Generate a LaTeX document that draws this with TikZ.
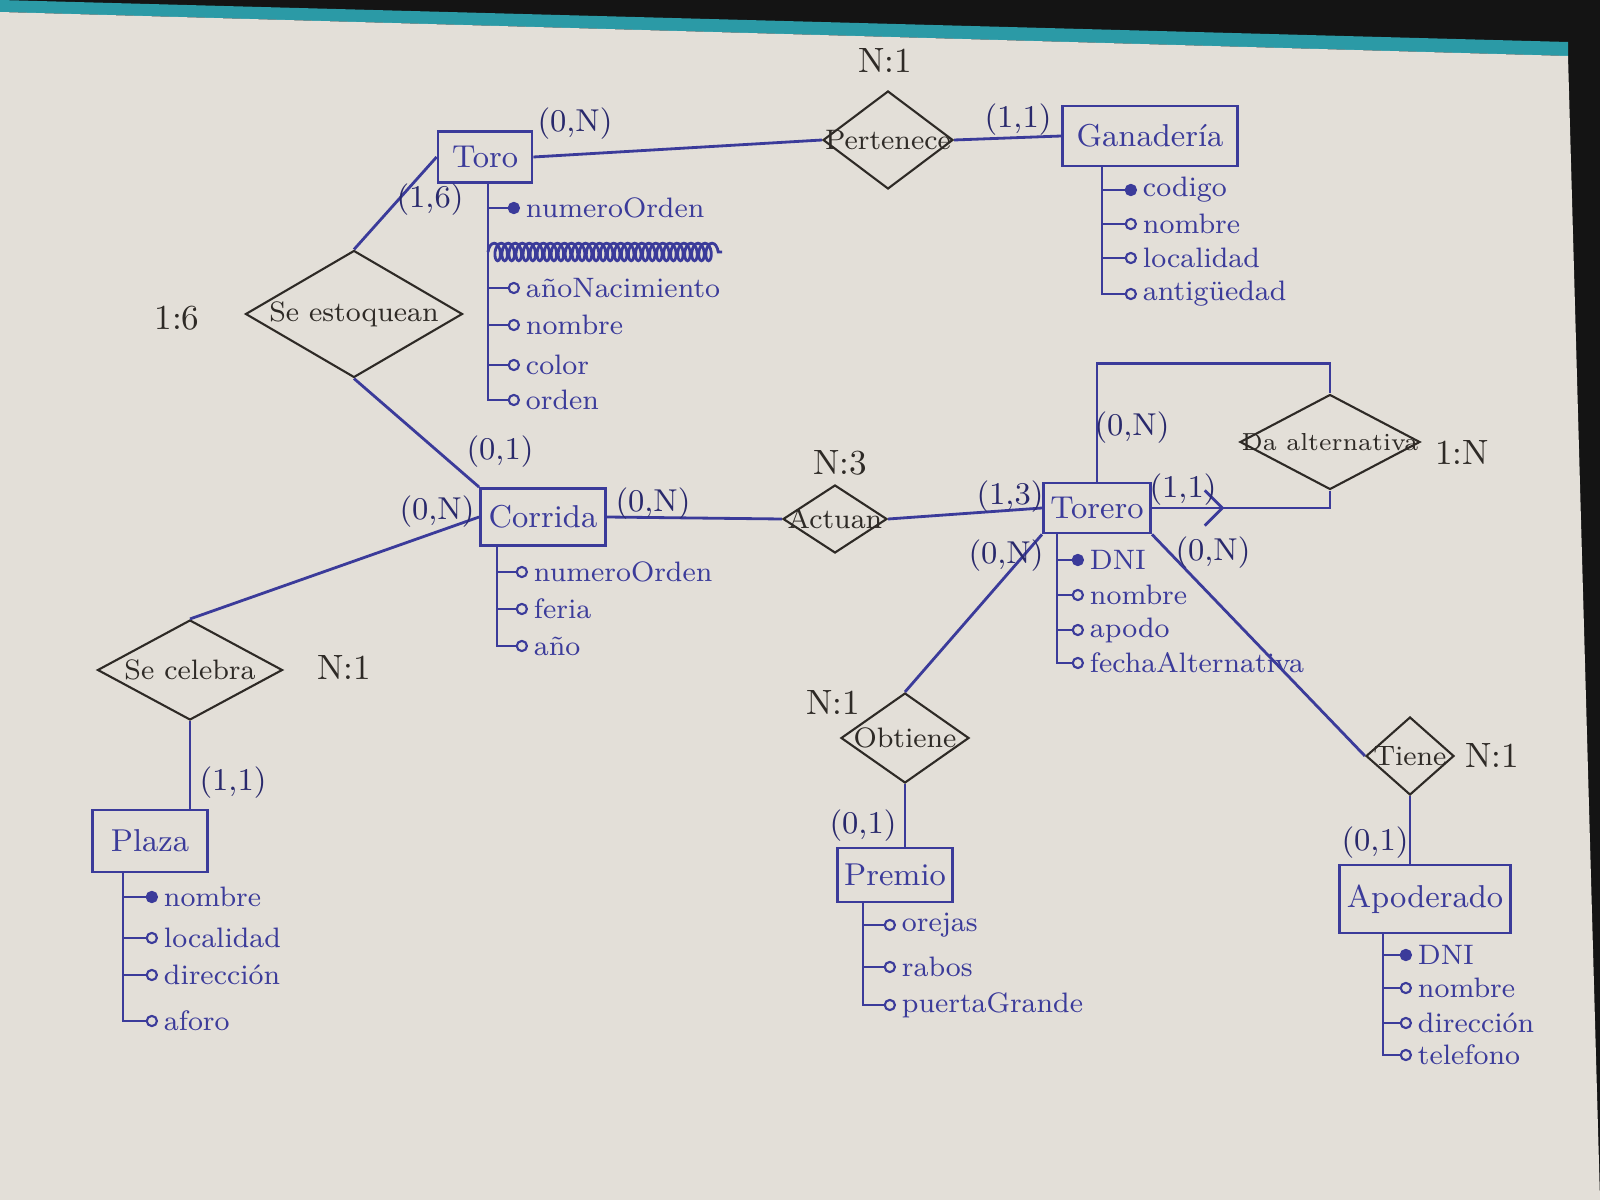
\documentclass[tikz,border=0pt]{standalone}
\usepackage{tikz}
\usetikzlibrary{shapes.geometric, arrows.meta, decorations.markings, decorations.pathmorphing, positioning}
\definecolor{ERink}{HTML}{3B3B9A}
\definecolor{ERpencil}{HTML}{2E2A26}
\definecolor{ERpaper}{HTML}{E3DFD8}
\definecolor{ERteal}{HTML}{2B9AA6}
\tikzset{
  entity/.style={draw=ERink, thick, rectangle, text=ERink, font=\small, inner sep=2pt},
  rel/.style={draw=ERpencil, semithick, diamond, inner sep=0pt},
  reltext/.style={font=\footnotesize, text=ERpencil},
  link/.style={draw=ERink, thick},
  attr/.style={anchor=west, font=\footnotesize, text=ERink, inner sep=1.5pt},
  attrline/.style={draw=ERink, semithick, -{Circle[open, length=3.5pt]}},
  keyline/.style={draw=ERink, semithick, -{Circle[length=3.5pt]}},
  card/.style={font=\small, text=ERink!70!black},
  ratio/.style={font=\normalsize, text=ERpencil}
}
\begin{document}
\begin{tikzpicture}[x=0.1mm, y=-0.1mm]
   \useasboundingbox (0,0) rectangle (1600,1200);
   % Paper
   \fill[black!92] (0,0) rectangle (1600,1200);
   \fill[ERteal] (0,0) -- (1568,42) -- (1568,56) -- (0,12) -- cycle;
   \fill[ERpaper] (0,12) -- (1568,56) -- (1600,1200) -- (0,1200) -- cycle;

   % Entities
   \node[entity, minimum width=9.4mm, minimum height=5.1mm] (toro) at (485,157) {Toro};
   \node[entity, minimum width=17.5mm, minimum height=6mm] (ganaderia) at (1150,136) {Ganadería};
   \node[entity, minimum width=12.5mm, minimum height=5.7mm] (corrida) at (543,517) {Corrida};
   \node[entity, minimum width=10mm, minimum height=5mm] (torero) at (1097,508) {Torero};
   \node[entity, minimum width=11.5mm, minimum height=6.2mm] (plaza) at (150,841) {Plaza};
   \node[entity, minimum width=10.4mm, minimum height=5.4mm] (premio) at (895,875) {Premio};
   \node[entity, minimum width=13mm, minimum height=6.8mm] (apoderado) at (1425,899) {Apoderado};

   % Relationships
   \node[rel, minimum width=13mm, minimum height=9.8mm,
      label={[reltext]center:Pertenece}] (pertenece) at (888,140) {};
   \node[rel, minimum width=21.7mm, minimum height=12.7mm,
      label={[reltext]center:Se estoquean}] (estoquean) at (354,314) {};
   \node[rel, minimum width=10.4mm, minimum height=6.8mm,
      label={[reltext]center:Actuan}] (actuan) at (835,519) {};
   \node[rel, minimum width=18.5mm, minimum height=10mm,
      label={[reltext]center:Se celebra}] (celebra) at (190,670) {};
   \node[rel, minimum width=18mm, minimum height=9.5mm,
      label={[reltext, font=\scriptsize]center:Da alternativa}] (altern) at (1330,442) {};
   \node[rel, minimum width=12.8mm, minimum height=9mm,
      label={[reltext]center:Obtiene}] (obtiene) at (905,738) {};
   \node[rel, minimum width=8.8mm, minimum height=7.8mm,
      label={[reltext]center:Tiene}] (tiene) at (1410,756) {};

   % Connections
   \draw[link] (toro.east) -- (pertenece.west);
   \draw[link] (pertenece.east) -- (ganaderia.west);
   \draw[link] (estoquean.north) -- (toro.west);
   \draw[link] (estoquean.south) -- (corrida.north west);
   \draw[link] (corrida.east) -- (actuan.west);
   \draw[link] (actuan.east) -- (torero.west);
   \draw[link] (celebra.north) -- (corrida.west);
   \draw[link] (celebra.south) -- (celebra.south |- plaza.north);
   \draw[link] (torero.north) -- ++(0,-118) -| (altern.north);
   \draw[link, postaction={decorate}, decoration={markings,
      mark=at position 0.37 with {\arrow{Straight Barb[length=5pt]}}}]
      (torero.east) -| (altern.south);
   \draw[link] (torero.south west) -- (obtiene.north);
   \draw[link] (obtiene.south) -- (obtiene.south |- premio.north);
   \draw[link] (torero.south east) -- (tiene.west);
   \draw[link] (tiene.south) -- (tiene.south |- apoderado.north);

   % Cardinalities
   \node[card] (cToro) at (575,124) {(0,N)};
   \node[card] (cToroE) at (430,200) {(1,6)};
   \node[card] (cGan) at (1018,120) {(1,1)};
   \node[card] (cCorE) at (500,452) {(0,1)};
   \node[card] (cCorC) at (437,512) {(0,N)};
   \node[card] (cCorA) at (653,504) {(0,N)};
   \node[card] (cTorA) at (1010,497) {(1,3)};
   \node[card] (cTorL) at (1132,428) {(0,N)};
   \node[card] (cTorR) at (1183,490) {(1,1)};
   \node[card] (cTorO) at (1006,556) {(0,N)};
   \node[card] (cTorT) at (1213,553) {(0,N)};
   \node[card] (cPre) at (863,826) {(0,1)};
   \node[card] (cApo) at (1375,843) {(0,1)};
   \node[card] (cPla) at (233,783) {(1,1)};
   \node[ratio] (rPer) at (885,60) {N:1};
   \node[ratio] (rEst) at (177,318) {1:6};
   \node[ratio] (rAct) at (840,463) {N:3};
   \node[ratio] (rAlt) at (1462,452) {1:N};
   \node[ratio] (rCel) at (344,667) {N:1};
   \node[ratio] (rObt) at (833,702) {N:1};
   \node[ratio] (rTie) at (1492,755) {N:1};

   % Toro attributes
   \coordinate (toroT) at (488,183);
   \node[attr] (toroA1) at (520,208) {numeroOrden};
   \node[attr] (toroA2) at (520,288) {añoNacimiento};
   \node[attr] (toroA3) at (520,325) {nombre};
   \node[attr] (toroA4) at (520,365) {color};
   \node[attr] (toroA5) at (520,400) {orden};
   \draw[keyline] (toroT |- toroA1) -- (toroA1.west);
   \draw[ERink, thick, decorate, decoration={coil, aspect=0.5, amplitude=2.5pt,
      segment length=2pt}] (toroT |- 0,252) -- (722,252);
   \draw[attrline] (toroT |- toroA2) -- (toroA2.west);
   \draw[attrline] (toroT |- toroA3) -- (toroA3.west);
   \draw[attrline] (toroT |- toroA4) -- (toroA4.west);
   \draw[attrline] (toroT) |- (toroA5.west);

   % Ganaderia attributes
   \coordinate (ganT) at (1102,166);
   \node[attr] (ganA1) at (1137,190) {codigo};
   \node[attr] (ganA2) at (1137,224) {nombre};
   \node[attr] (ganA3) at (1137,258) {localidad};
   \node[attr] (ganA4) at (1137,294) {antigüedad};
   \draw[keyline] (ganT |- ganA1) -- (ganA1.west);
   \draw[attrline] (ganT |- ganA2) -- (ganA2.west);
   \draw[attrline] (ganT |- ganA3) -- (ganA3.west);
   \draw[attrline] (ganT) |- (ganA4.west);

   % Corrida attributes
   \coordinate (corT) at (497,545);
   \node[attr] (corA1) at (528,572) {numeroOrden};
   \node[attr] (corA2) at (528,609) {feria};
   \node[attr] (corA3) at (528,646) {año};
   \draw[attrline] (corT |- corA1) -- (corA1.west);
   \draw[attrline] (corT |- corA2) -- (corA2.west);
   \draw[attrline] (corT) |- (corA3.west);

   % Torero attributes
   \coordinate (torT) at (1057,533);
   \node[attr] (torA1) at (1084,560) {DNI};
   \node[attr] (torA2) at (1084,595) {nombre};
   \node[attr] (torA3) at (1084,630) {apodo};
   \node[attr] (torA4) at (1084,663) {fechaAlternativa};
   \draw[keyline] (torT |- torA1) -- (torA1.west);
   \draw[attrline] (torT |- torA2) -- (torA2.west);
   \draw[attrline] (torT |- torA3) -- (torA3.west);
   \draw[attrline] (torT) |- (torA4.west);

   % Plaza attributes
   \coordinate (plaT) at (123,872);
   \node[attr] (plaA1) at (158,897) {nombre};
   \node[attr] (plaA2) at (158,938) {localidad};
   \node[attr] (plaA3) at (158,975) {dirección};
   \node[attr] (plaA4) at (158,1021) {aforo};
   \draw[keyline] (plaT |- plaA1) -- (plaA1.west);
   \draw[attrline] (plaT |- plaA2) -- (plaA2.west);
   \draw[attrline] (plaT |- plaA3) -- (plaA3.west);
   \draw[attrline] (plaT) |- (plaA4.west);

   % Premio attributes
   \coordinate (preT) at (863,902);
   \node[attr] (preA1) at (896,925) {orejas};
   \node[attr] (preA2) at (896,967) {rabos};
   \node[attr] (preA3) at (896,1005) {puertaGrande};
   \draw[attrline] (preT |- preA1) -- (preA1.west);
   \draw[attrline] (preT |- preA2) -- (preA2.west);
   \draw[attrline] (preT) |- (preA3.west);

   % Apoderado attributes
   \coordinate (apoT) at (1383,933);
   \node[attr] (apoA1) at (1412,955) {DNI};
   \node[attr] (apoA2) at (1412,988) {nombre};
   \node[attr] (apoA3) at (1412,1023) {dirección};
   \node[attr] (apoA4) at (1412,1055) {telefono};
   \draw[keyline] (apoT |- apoA1) -- (apoA1.west);
   \draw[attrline] (apoT |- apoA2) -- (apoA2.west);
   \draw[attrline] (apoT |- apoA3) -- (apoA3.west);
   \draw[attrline] (apoT) |- (apoA4.west);
\end{tikzpicture}
\end{document}
